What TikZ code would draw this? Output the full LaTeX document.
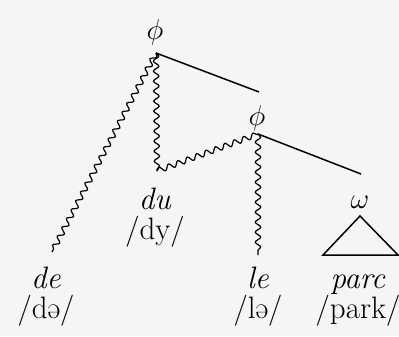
\documentclass[tikz,border=0pt]{standalone}
\usetikzlibrary{decorations.pathmorphing}
\begin{document}
\begin{tikzpicture}[x=0.5pt,y=-0.5pt,
  lab/.style={inner sep=0pt, font=\fontsize{15.5}{18}\selectfont},
  word/.style={lab, anchor=base, align=center, font=\fontsize{15.5}{15}\selectfont},
  wavy/.style={decorate, decoration={snake, segment length=5pt, amplitude=1.35pt}, line width=0.6pt},
  straight/.style={line width=0.75pt}]
\definecolor{paper}{HTML}{F3F5F7}
\fill[paper] (0,0) rectangle (399,336);
\useasboundingbox (0,0) rectangle (399,336);
% labels
\node[lab] (phi1) at (155,32) {$\phi$};
\node[lab] (phi2) at (257,118) {$\phi$};
\node[lab] (omega) at (360,202) {$\omega$};
\node[word] (du) at (155,239) {\textit{du}\\/dy/};
\node[word] (de) at (46,318) {\textit{de}\\/də/};
\node[word] (le) at (258,318) {\textit{le}\\/lə/};
\node[word] (parc) at (358,318) {\textit{parc}\\/park/};
% attachment points
\coordinate (a1) at (156,53);
\coordinate (a2) at (258,134);
\coordinate (e1) at (259,92);
\coordinate (e2) at (361,174);
\coordinate (dep) at (52,252);
\coordinate (dub) at (157,171);
\coordinate (leb) at (258,255);
% edges
\draw[straight] (a1) -- (e1);
\draw[straight] (a2) -- (e2);
\draw[wavy] (a1) -- (dep);
\draw[wavy] (a1) -- (dub);
\draw[wavy] (dub) -- (a2);
\draw[wavy] (a2) -- (leb);
% triangle under omega
\draw[straight] (360,216) -- (323,255) -- (398,255) -- cycle;
\end{tikzpicture}
\end{document}
